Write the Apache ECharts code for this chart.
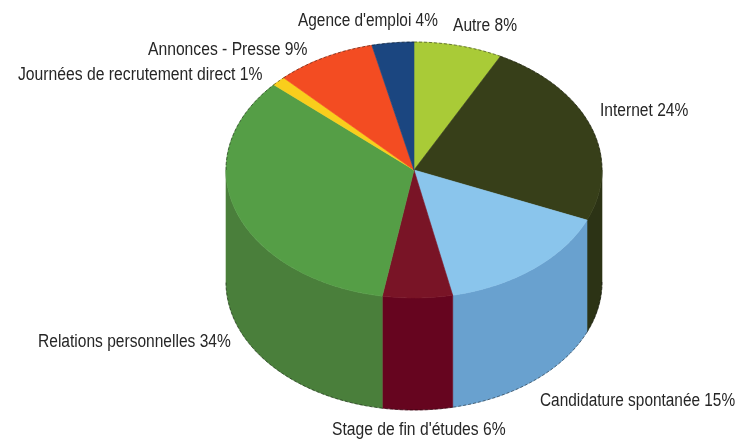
<!DOCTYPE html>
<html><head><meta charset="utf-8">
<style>html,body{margin:0;padding:0;background:#fff}#c{width:741px;height:441px}</style>
<script src="https://cdn.jsdelivr.net/npm/echarts@6/dist/echarts.min.js"></script>
</head><body><div id="c"></div>
<script>
const categories = ["Autre","Internet","Candidature spontanée","Stage de fin d'études","Relations personnelles","Journées de recrutement direct","Annonces - Presse","Agence d'emploi"];
const shares = [7.6,23.8,15.3,6,33.9,1.2,8.6,3.6];
const topColors = ['#a9cb37','#373f19','#8ac5ec','#791426','#559e46','#f9ce1c','#f34c22','#1b4680'];
const wallColors = ['#8aa52d','#2c3315','#69a1cf','#66051f','#4a7f3b','#c9a616','#c53d1b','#143664'];
const labelAnchors = [[453,26.5],[600,111.5],[540,401.5],[332,430.5],[38,342.5],[18,75.5],[148,50.5],[298,21.5]];
const labelStretch = [0.865,0.865,0.855,0.87,0.864,0.873,0.871,0.855];

const pie = {cx:414, cy:170, rx:188, ry:128, depth:112};
const total = shares.reduce((a,b)=>a+b,0);
const pt = (t,dy)=>[pie.cx+pie.rx*Math.sin(t), pie.cy-pie.ry*Math.cos(t)+(dy||0)];
const arc = (a,b,dy)=>{const n=Math.max(2,Math.ceil((b-a)/(Math.PI/180)));const p=[];for(let i=0;i<=n;i++)p.push(pt(a+(b-a)*i/n,dy));return p;};
const edge = {stroke:'rgba(0,0,0,0.5)',lineWidth:0.9,lineDash:[3,2],fill:null};

function renderItem(params, api){
  const i = params.dataIndex;
  let before = 0; for(let k=0;k<i;k++) before += shares[k];
  const a = before/total*2*Math.PI, b = (before+api.value(0))/total*2*Math.PI;
  const children = [];
  const wa = Math.max(a,Math.PI/2), wb = Math.min(b,1.5*Math.PI);
  if(wb>wa){
    const pts = arc(wa,wb,0).concat(arc(wa,wb,pie.depth).reverse());
    children.push({type:'polygon',shape:{points:pts},style:{fill:wallColors[i],stroke:wallColors[i],lineWidth:0.6}});
    children.push({type:'polyline',shape:{points:arc(wa,wb,pie.depth)},style:edge});
  }
  children.push({type:'polygon',shape:{points:[[pie.cx,pie.cy]].concat(arc(a,b,0))},style:{fill:topColors[i],stroke:topColors[i],lineWidth:0.6}});
  if(a<Math.PI/2||b>1.5*Math.PI){
    const ea = a<Math.PI/2?a:Math.max(a,1.5*Math.PI), eb = a<Math.PI/2?Math.min(b,Math.PI/2):b;
    children.push({type:'polyline',shape:{points:arc(ea,eb,0)},style:edge});
  }
  children.push({type:'text',x:labelAnchors[i][0],y:labelAnchors[i][1],scaleX:labelStretch[i],
    style:{text:categories[i]+' '+Math.round(api.value(0))+'%',x:0,y:0,
    fill:'#262626',font:'18px "Liberation Sans",sans-serif',textAlign:'left',textVerticalAlign:'middle'}});
  return {type:'group',children};
}
const chart = echarts.init(document.getElementById('c'),null,{renderer:'canvas'});
chart.setOption({animation:false,backgroundColor:'#fff',
  series:[{type:'custom',coordinateSystem:'none',renderItem,data:shares.map(v=>[v])}]});
</script></body></html>
